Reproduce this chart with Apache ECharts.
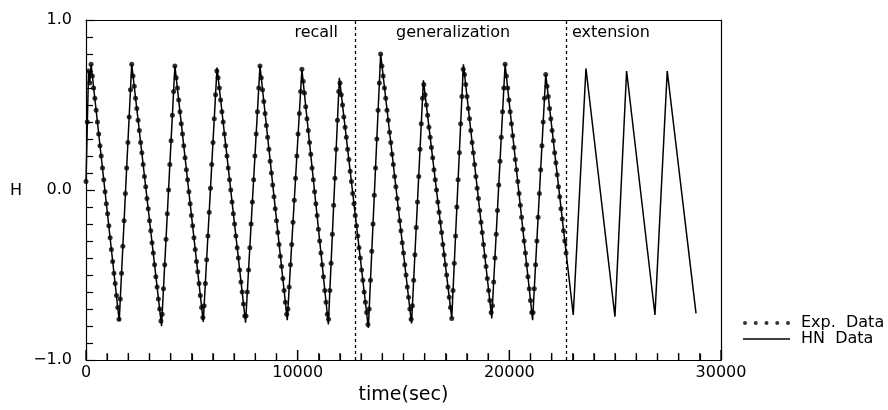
<!DOCTYPE html>
<html>
<head>
<meta charset="utf-8">
<script src="https://cdn.jsdelivr.net/npm/echarts@6/dist/echarts.min.js"></script>
<style>html,body{margin:0;padding:0;background:#fff}#c{width:888px;height:410px}</style>
</head>
<body>
<div id="c"></div>
<script>
const expStep = 60;
const expCycleStarts = [0, 300, 2220, 4260, 6240, 8280, 10260, 12000, 13980, 15960, 17880, 19860, 21780];
const expCycle0 = [0.05, 0.40, 0.70, 0.63, 0.74];
const expCycle1 = [0.67,0.60,0.54,0.47,0.40,0.33,0.26,0.20,0.13,0.06,-0.01,-0.08,-0.14,-0.21,-0.28,-0.35,-0.42,-0.49,-0.55,-0.62,-0.69,-0.76,
                   -0.64,-0.49,-0.33,-0.18,-0.02,0.13,0.28,0.43,0.59,0.74];
const expCycle2 = [0.67,0.61,0.54,0.48,0.41,0.35,0.28,0.22,0.15,0.08,0.02,-0.05,-0.11,-0.18,-0.24,-0.31,-0.37,-0.44,-0.51,-0.57,-0.64,-0.70,-0.77,
                   -0.73,-0.58,-0.44,-0.29,-0.14,0.00,0.15,0.29,0.44,0.58,0.73];
const expCycle3 = [0.66,0.60,0.53,0.46,0.39,0.33,0.26,0.19,0.12,0.06,-0.01,-0.08,-0.15,-0.21,-0.28,-0.35,-0.42,-0.48,-0.55,-0.62,-0.69,-0.75,
                   -0.68,-0.55,-0.41,-0.27,-0.13,0.01,0.15,0.28,0.42,0.56,0.70];
const expCycle4 = [0.66,0.60,0.53,0.46,0.40,0.33,0.26,0.20,0.13,0.06,0.00,-0.07,-0.14,-0.20,-0.27,-0.34,-0.40,-0.47,-0.54,-0.60,-0.67,-0.74,
                   -0.74,-0.60,-0.47,-0.34,-0.20,-0.07,0.06,0.20,0.33,0.46,0.60,0.73];
const expCycle5 = [0.66,0.59,0.52,0.45,0.38,0.31,0.24,0.17,0.10,0.03,-0.04,-0.11,-0.18,-0.25,-0.32,-0.39,-0.45,-0.52,-0.59,-0.66,-0.73,
                   -0.70,-0.57,-0.44,-0.32,-0.19,-0.06,0.07,0.20,0.33,0.45,0.58,0.71];
const expCycle6 = [0.64,0.57,0.49,0.42,0.35,0.28,0.21,0.13,0.06,-0.01,-0.08,-0.15,-0.23,-0.30,-0.37,-0.44,-0.51,-0.59,-0.66,-0.73,
                   -0.76,-0.59,-0.43,-0.26,-0.09,0.07,0.24,0.41,0.58];
const expCycle7 = [0.63,0.56,0.50,0.43,0.37,0.31,0.24,0.18,0.11,0.05,-0.02,-0.08,-0.15,-0.21,-0.27,-0.34,-0.40,-0.47,-0.53,-0.60,-0.66,-0.72,-0.79,
                   -0.70,-0.53,-0.36,-0.20,-0.03,0.13,0.30,0.47,0.63,0.80];
const expCycle8 = [0.73,0.67,0.60,0.54,0.47,0.41,0.34,0.28,0.21,0.15,0.08,0.02,-0.05,-0.11,-0.18,-0.24,-0.31,-0.37,-0.44,-0.50,-0.57,-0.63,-0.70,-0.76,
                   -0.68,-0.53,-0.38,-0.22,-0.07,0.08,0.24,0.39,0.54];
const expCycle9 = [0.62,0.56,0.50,0.44,0.37,0.31,0.25,0.19,0.12,0.06,0.00,-0.07,-0.13,-0.19,-0.25,-0.32,-0.38,-0.44,-0.50,-0.57,-0.63,-0.69,-0.755,
                   -0.59,-0.43,-0.27,-0.10,0.06,0.22,0.39,0.55,0.71];
const expCycle10 = [0.68,0.62,0.55,0.48,0.42,0.35,0.28,0.22,0.15,0.08,0.01,-0.05,-0.12,-0.19,-0.25,-0.32,-0.39,-0.45,-0.52,-0.59,-0.65,-0.72,
                    -0.68,-0.54,-0.40,-0.26,-0.12,0.03,0.17,0.31,0.46,0.60,0.74];
const expCycle11 = [0.67,0.60,0.53,0.46,0.39,0.32,0.25,0.18,0.12,0.05,-0.02,-0.09,-0.16,-0.23,-0.30,-0.37,-0.44,-0.51,-0.58,-0.65,-0.72,
                    -0.72,-0.58,-0.44,-0.30,-0.16,-0.02,0.12,0.26,0.40,0.54,0.68];
const expCycle12 = [0.61,0.55,0.48,0.42,0.35,0.29,0.22,0.16,0.09,0.02,-0.04,-0.11,-0.17,-0.24,-0.30,-0.37];

const hnTime  = [0,120,180,240,1570,2160,3570,4200,5540,6190,7540,8220,9510,10200,11450,11970,13340,13920,15380,15940,17280,17830,19170,19800,21100,21720,23020,23620,24990,25540,26880,27460,28820];
const hnValue = [0.05,0.70,0.63,0.74,-0.77,0.74,-0.80,0.73,-0.775,0.72,-0.78,0.73,-0.765,0.71,-0.79,0.66,-0.81,0.80,-0.785,0.645,-0.755,0.74,-0.755,0.74,-0.765,0.68,-0.735,0.715,-0.745,0.70,-0.735,0.70,-0.725];

const phaseBoundaries = [12700, 22700];
const phaseLabels = ['recall', 'generalization', 'extension'];
const seriesNames = ['Exp.  Data', 'HN  Data'];
const xTicks = [0, 10000, 20000, 30000];
const xMinorStep = 1000;
const yTicks = [-1, 0, 1];

const expCycles = [expCycle0, expCycle1, expCycle2, expCycle3, expCycle4, expCycle5, expCycle6,
                   expCycle7, expCycle8, expCycle9, expCycle10, expCycle11, expCycle12];
const expData = [];
expCycles.forEach((arr, k) => {
  arr.forEach((v, i) => expData.push([expCycleStarts[k] + i * expStep, v]));
});
const hnData = hnTime.map((t, i) => [t, hnValue[i]]);

// x-axis tick positions (major every 10000, minor every 1000)
const xMax = xTicks[xTicks.length - 1];
const xTickData = [];
for (let t = xTicks[0]; t <= xMax; t += xMinorStep) xTickData.push([t, t % 10000 === 0 ? 1 : 0]);

const FONT = 'DejaVu Sans';
const dotsIcon = 'path://M0,2a2,2 0 1,0 4,0a2,2 0 1,0 -4,0Z M10.75,2a2,2 0 1,0 4,0a2,2 0 1,0 -4,0Z M21.5,2a2,2 0 1,0 4,0a2,2 0 1,0 -4,0Z M32.25,2a2,2 0 1,0 4,0a2,2 0 1,0 -4,0Z M43,2a2,2 0 1,0 4,0a2,2 0 1,0 -4,0Z';
const lineIcon = 'path://M0,0H47V1.4H0Z';
const AX = {color: '#000', width: 1.2};

const chart = echarts.init(document.getElementById('c'), null, {renderer: 'canvas'});
chart.setOption({
  animation: false,
  backgroundColor: '#fff',
  textStyle: {fontFamily: FONT, color: '#000'},
  grid: {left: 86, right: 167, top: 20, bottom: 45, show: false},
  legend: {
    orient: 'vertical', left: 743, top: 315, itemGap: 0, itemWidth: 47, itemHeight: 5, padding: 0,
    textStyle: {fontFamily: FONT, fontSize: 16, lineHeight: 15, color: '#000', padding: [0, 0, 0, 6]},
    data: [{name: seriesNames[0], icon: dotsIcon}, {name: seriesNames[1], icon: lineIcon}],
    selectedMode: false
  },
  xAxis: [{
    type: 'value', position: 'bottom', min: xTicks[0], max: xMax, interval: 10000,
    name: 'time(sec)', nameLocation: 'middle', nameGap: 23,
    nameTextStyle: {fontFamily: FONT, fontSize: 19, color: '#000'},
    axisLine: {show: true, onZero: false, lineStyle: AX},
    axisTick: {show: true, inside: true, length: 10, lineStyle: AX},
    minorTick: {show: true, splitNumber: 10, length: 6, lineStyle: AX},
    axisLabel: {fontFamily: FONT, fontSize: 16, color: '#000', margin: 5, formatter: v => String(v)},
    splitLine: {show: false}
  }, {
    type: 'value', position: 'top', min: xTicks[0], max: xMax,
    axisLine: {show: true, onZero: false, lineStyle: AX},
    axisTick: {show: false}, axisLabel: {show: false}, splitLine: {show: false}
  }],
  yAxis: [{
    type: 'value', position: 'left', min: yTicks[0], max: yTicks[yTicks.length - 1], interval: 1,
    axisLine: {show: true, onZero: false, lineStyle: AX},
    axisTick: {show: true, inside: true, length: 9, lineStyle: AX},
    minorTick: {show: true, splitNumber: 10, length: 7, lineStyle: AX},
    axisLabel: {fontFamily: FONT, fontSize: 16, color: '#000', margin: 14,
      formatter: v => (v < 0 ? '\u2212' : '') + Math.abs(v).toFixed(1)},
    splitLine: {show: false}
  }, {
    type: 'value', position: 'right', min: yTicks[0], max: yTicks[yTicks.length - 1],
    axisLine: {show: true, onZero: false, lineStyle: AX},
    axisTick: {show: false}, axisLabel: {show: false}, splitLine: {show: false}
  }],
  graphic: [
    {type: 'text', left: 10, top: 183, style: {text: 'H', font: '16px ' + FONT, fill: '#000'}},
    {type: 'text', right: 888 - 338, top: 25, style: {text: phaseLabels[0], font: '16px ' + FONT, fill: '#000'}},
    {type: 'text', left: 396, top: 25, style: {text: phaseLabels[1], font: '16px ' + FONT, fill: '#000'}},
    {type: 'text', left: 572, top: 25, style: {text: phaseLabels[2], font: '16px ' + FONT, fill: '#000'}}
  ],
  series: [
    {
      name: seriesNames[0], type: 'scatter', data: expData, symbol: 'circle', symbolSize: 5,
      itemStyle: {color: '#000'}, z: 3, silent: true
    },
    {
      name: seriesNames[1], type: 'line', data: hnData, showSymbol: false, symbol: 'none',
      lineStyle: {color: '#000', width: 1.5}, itemStyle: {color: '#000'}, z: 4, silent: true,
      markLine: {
        silent: true, symbol: 'none', label: {show: false},
        lineStyle: {color: '#000', width: 1.3, type: [3, 3]},
        data: phaseBoundaries.map(t => ({xAxis: t}))
      }
    },
    {
      name: 'xticks', type: 'custom', data: xTickData, clip: false, silent: true, z: 5,
      renderItem: (params, api) => {
        const p = api.coord([api.value(0), yTicks[0]]);
        const len = api.value(1) ? 10 : 7;
        return {type: 'line', shape: {x1: p[0], y1: p[1], x2: p[0], y2: p[1] - len},
                style: {stroke: '#000', lineWidth: 1.3}};
      }
    }
  ]
});
</script>
</body>
</html>
